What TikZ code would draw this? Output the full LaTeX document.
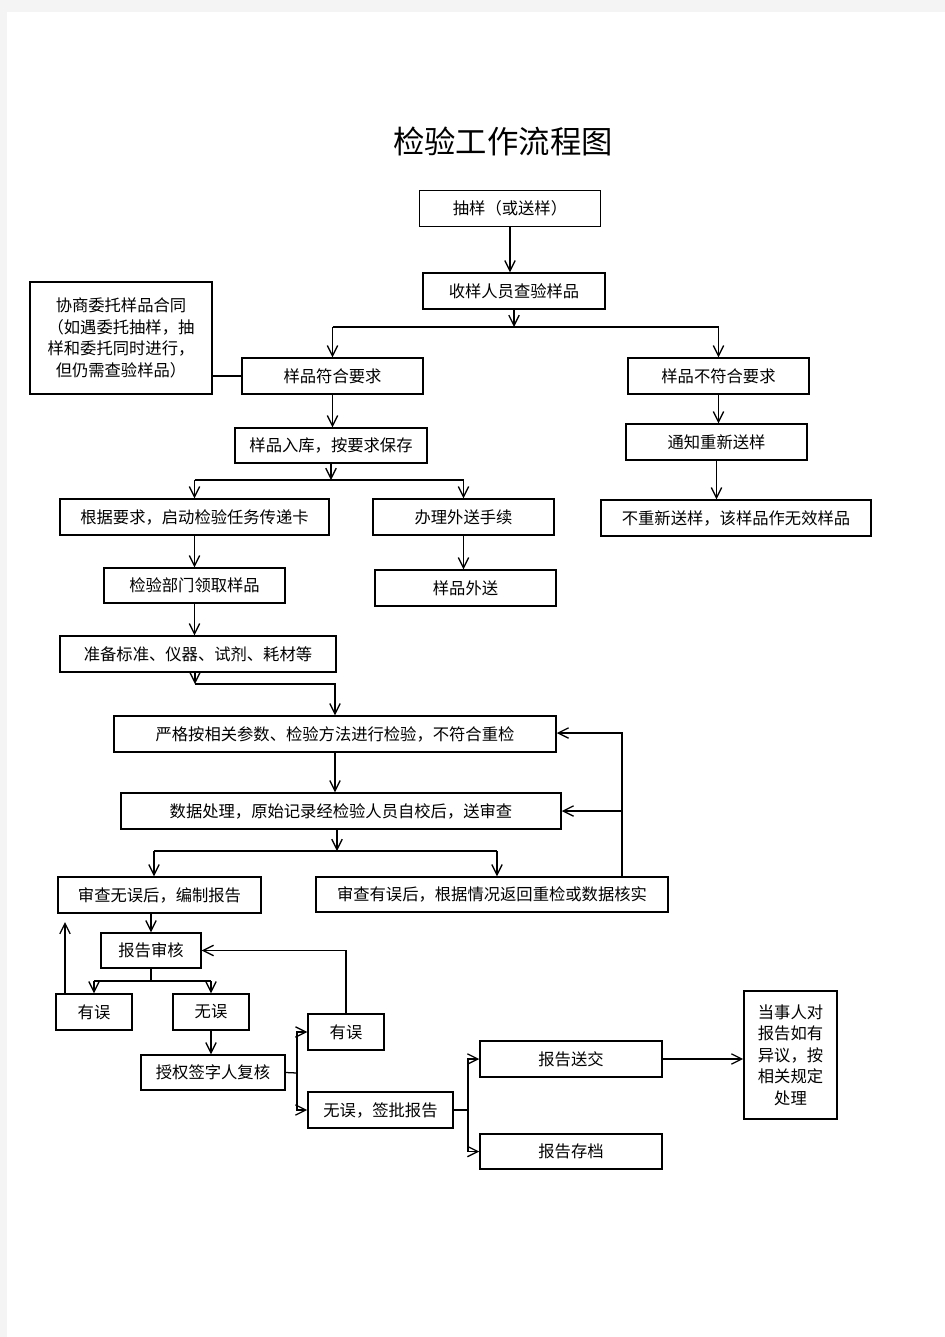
\documentclass[tikz,border=0pt]{standalone}
\usepackage{fontspec}
\setmainfont{Noto Sans CJK SC}
\usetikzlibrary{arrows.meta}
\definecolor{pagegray}{HTML}{F4F4F4}
\begin{document}
\begin{tikzpicture}[x=0.025cm,y=-0.025cm,
		box/.style={draw,line width=1pt,minimum height=0.9cm,inner sep=1pt,align=center,font=\fontsize{11.6}{15.3}\selectfont},
		arr/.style={-{Straight Barb[length=2.6mm,width=2.6mm]},line width=0.9pt},
		con/.style={line width=0.9pt}]
		\useasboundingbox (0,0) rectangle (945,1337);
		\fill[pagegray] (0,0) rectangle (945,1337);
		\fill[white] (7,12) rectangle (945,1337);
		\node[font=\fontsize{22.3}{26}\selectfont] (title) at (503,141) {检验工作流程图};
		\node[box,minimum width=4.53cm] (qy) at (510,208.5) {抽样（或送样）};
		\node[box,minimum width=4.55cm] (sy) at (514,291) {收样人员查验样品};
		\node[box,minimum width=4.55cm,minimum height=2.8cm] (xs) at (121,338) {协商委托样品合同\\（如遇委托抽样，抽\\样和委托同时进行，\\但仍需查验样品）};
		\node[box,minimum width=4.53cm] (fh) at (332.5,376) {样品符合要求};
		\node[box,minimum width=4.53cm] (bfh) at (718.5,376) {样品不符合要求};
		\node[box,minimum width=4.8cm,minimum height=0.875cm] (rk) at (331,445.5) {样品入库，按要求保存};
		\node[box,minimum width=4.53cm] (tz) at (716.5,442) {通知重新送样};
		\node[box,minimum width=6.73cm] (gj) at (194.5,517) {根据要求，启动检验任务传递卡};
		\node[box,minimum width=4.53cm] (bl) at (463.5,517) {办理外送手续};
		\node[box,minimum width=6.75cm] (bcx) at (736,518) {不重新送样，该样品作无效样品};
		\node[box,minimum width=4.53cm,minimum height=0.875cm] (lq) at (194.5,585.5) {检验部门领取样品};
		\node[box,minimum width=4.53cm] (ws) at (465.5,588) {样品外送};
		\node[box,minimum width=6.9cm] (zb) at (198,654) {准备标准、仪器、试剂、耗材等};
		\node[box,minimum width=11.05cm] (yg) at (335,734) {严格按相关参数、检验方法进行检验，不符合重检};
		\node[box,minimum width=11cm] (sj) at (341,811) {数据处理，原始记录经检验人员自校后，送审查};
		\node[box,minimum width=5.08cm] (wwu) at (159.5,895) {审查无误后，编制报告};
		\node[box,minimum width=8.8cm,minimum height=0.875cm] (yw) at (492,894.5) {审查有误后，根据情况返回重检或数据核实};
		\node[box,minimum width=2.5cm,minimum height=0.875cm] (sh) at (151,950.5) {报告审核};
		\node[box,minimum width=1.9cm] (yw1) at (94,1012) {有误};
		\node[box,minimum width=1.9cm] (ww1) at (211,1012) {无误};
		\node[box,minimum width=1.9cm] (yw2) at (346,1032) {有误};
		\node[box,minimum width=3.6cm,minimum height=0.875cm] (sq) at (213,1072.5) {授权签字人复核};
		\node[box,minimum width=3.63cm] (qp) at (380.5,1110) {无误，签批报告};
		\node[box,minimum width=4.55cm] (sjj) at (571,1059) {报告送交};
		\node[box,minimum width=4.55cm,minimum height=0.875cm] (cd) at (571,1151.5) {报告存档};
		\node[box,minimum width=2.33cm,minimum height=3.2cm] (dsr) at (790.5,1055) {当事人对\\报告如有\\异议，按\\相关规定\\处理};
		\coordinate (sp1) at (513,327);
		\coordinate (sp2) at (331,480);
		\coordinate (sp3) at (195,684);
		\coordinate (sp4) at (337,851);
		\coordinate (sp4l) at (154,851);
		\coordinate (sp4r) at (497,851);
		\coordinate (fb1) at (622,733);
		\coordinate (sp5) at (151,981);
		\coordinate (fb2) at (65,922);
		\coordinate (sp6) at (297,1073);
		\coordinate (sp7) at (468,1110);
		\draw[arr] (qy.south) -- (qy.south |- sy.north);
		\draw[arr] (sy.south) -- (sy.south |- sp1);
		\draw[con] (sp1 -| fh) -- (sp1 -| bfh);
		\draw[arr] (sp1 -| fh) -- (fh);
		\draw[arr] (sp1 -| bfh) -- (bfh);
		\draw[con] (fh.west) -- (fh.west -| xs.east);
		\draw[arr] (fh.south) -- (fh.south |- rk.north);
		\draw[arr] (rk.south) -- (sp2);
		\draw[con] (sp2 -| gj) -- (sp2 -| bl);
		\draw[arr] (sp2 -| gj) -- (gj);
		\draw[arr] (sp2 -| bl) -- (bl);
		\draw[arr] (bfh.south) -- (bfh.south |- tz.north);
		\draw[arr] (tz.south) -- (tz.south |- bcx.north);
		\draw[arr] (gj.south) -- (gj.south |- lq.north);
		\draw[arr] (bl.south) -- (bl.south |- ws.north);
		\draw[arr] (lq.south) -- (lq.south |- zb.north);
		\draw[arr] (zb.south -| sp3) -- (sp3);
		\draw[arr] (sp3) -| (yg.north);
		\draw[arr] (yg.south) -- (yg.south |- sj.north);
		\draw[arr] (sj.south -| sp4) -- (sp4);
		\draw[con] (sp4l) -- (sp4r);
		\draw[arr] (sp4l) -- (sp4l |- wwu.north);
		\draw[arr] (sp4r) -- (sp4r |- yw.north);
		\draw[arr] (fb1 |- yw.north) -- (fb1) -- (fb1 -| yg.east);
		\draw[arr] (fb1 |- sj.east) -- (sj.east);
		\draw[arr] (wwu.south -| sh) -- (sh);
		\draw[con] (sh.south) -- (sp5);
		\draw[con] (sp5 -| yw1) -- (sp5 -| ww1);
		\draw[arr] (sp5 -| yw1) -- (yw1);
		\draw[arr] (sp5 -| ww1) -- (ww1);
		\draw[arr] (fb2 |- yw1.north) -- (fb2);
		\draw[arr] (yw2.north) |- (sh.east);
		\draw[arr] (ww1.south) -- (ww1.south |- sq.north);
		\draw[con] (sq.east) -- (sp6);
		\draw[arr] (sp6) |- (yw2.west);
		\draw[arr] (sp6) |- (qp.west);
		\draw[con] (qp.east) -- (sp7);
		\draw[arr] (sp7) |- (sjj.west);
		\draw[arr] (sp7) |- (cd.west);
		\draw[arr] (sjj.east) -- (sjj.east -| dsr.west);
	\end{tikzpicture}
\end{document}
